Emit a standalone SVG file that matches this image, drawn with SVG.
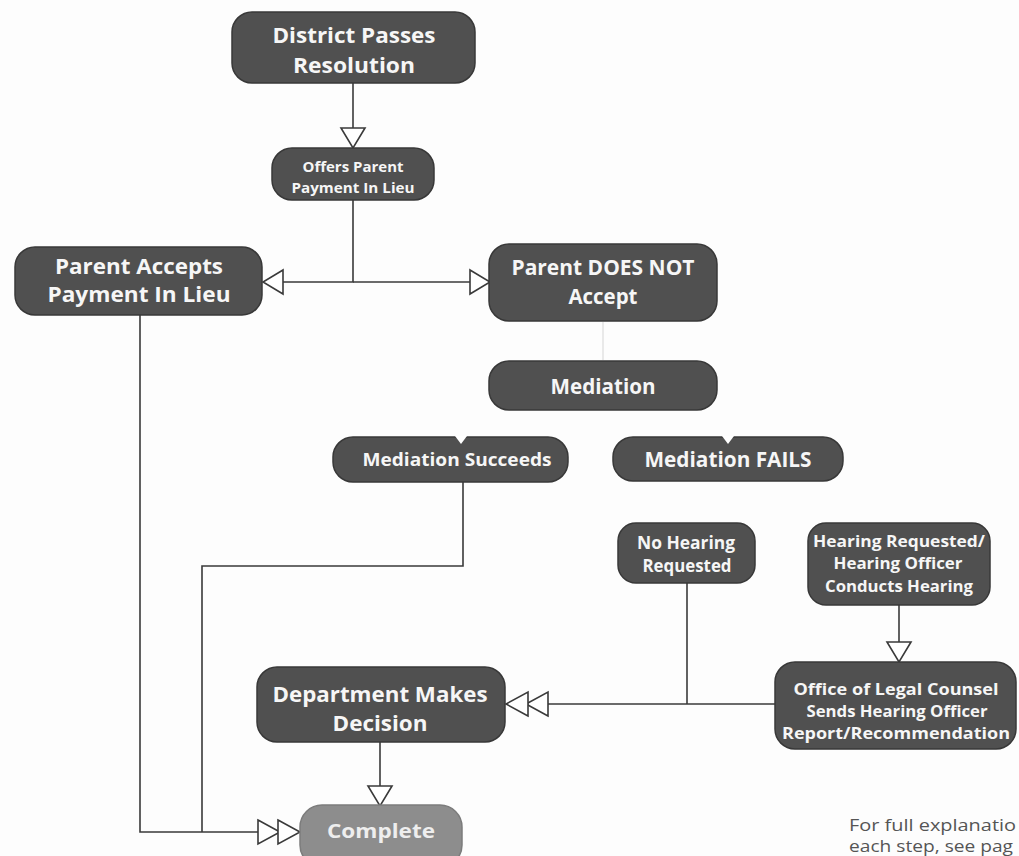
<svg xmlns="http://www.w3.org/2000/svg" width="1019" height="856" viewBox="0 0 1019 856">
<style>
.box{fill:#505050;stroke:#383838;stroke-width:1.5}
.light{fill:#8d8d8d;stroke:#7c7c7c;stroke-width:1.5}
.t{font-family:"Open Sans","Liberation Sans",sans-serif;font-weight:bold;fill:#f6f6f6;text-anchor:middle}
.big{font-size:22px}
.mid{font-size:18px}
.sm{font-size:16.5px}
.nh{font-size:17px}
.xs{font-size:15px}
.ct{fill:#eeeeee;font-size:20px}
.con{fill:none;stroke:#3a3a3a;stroke-width:1.6}
.faint{fill:none;stroke:#e2e2e2;stroke-width:1.5}
.note{font-family:"Open Sans","Liberation Sans",sans-serif;font-size:15.5px;fill:#555}
.notch{fill:#ffffff}
</style>
<defs>
<marker id="tri" markerUnits="userSpaceOnUse" markerWidth="24" markerHeight="28" refX="21" refY="13" orient="auto" overflow="visible">
<path d="M1,1 L21,13 L1,25 Z" fill="#ffffff" stroke="#3a3a3a" stroke-width="1.6"/>
</marker>
<marker id="dbl" markerUnits="userSpaceOnUse" markerWidth="46" markerHeight="28" refX="43" refY="13" orient="auto" overflow="visible">
<path d="M1,1 L23,13 L1,25 Z" fill="#ffffff" stroke="#3a3a3a" stroke-width="1.6"/>
<path d="M21,1 L43,13 L21,25 Z" fill="#ffffff" stroke="#3a3a3a" stroke-width="1.6"/>
</marker>
</defs>
<rect width="1019" height="856" fill="#fdfdfd"/>

<g id="connectors">
<path class="con" d="M353,83 V148" marker-end="url(#tri)"/>
<path class="con" d="M353,200 V282 H263" marker-end="url(#tri)"/>
<path class="con" d="M353,282 H490" marker-end="url(#tri)"/>
<path class="con" d="M140,315 V832 H300" marker-end="url(#dbl)"/>
<path class="con" d="M463,482 V566 H202 V832"/>
<path class="faint" d="M603,322 V360"/>
<path class="con" d="M775,704 H506" marker-end="url(#dbl)"/>
<path class="con" d="M687,583 V704"/>
<path class="con" d="M899,605 V662" marker-end="url(#tri)"/>
<path class="con" d="M380,742 V806" marker-end="url(#tri)"/>
</g>

<g id="district">
<rect class="box" x="232" y="12" width="243" height="71" rx="20"/>
<text class="t big" x="354" y="43" textLength="163" lengthAdjust="spacingAndGlyphs">District Passes</text>
<text class="t big" x="354" y="73" textLength="122" lengthAdjust="spacingAndGlyphs">Resolution</text>
</g>

<g id="offers">
<rect class="box" x="272" y="148" width="162" height="52" rx="20"/>
<text class="t xs" x="353" y="172" textLength="101" lengthAdjust="spacingAndGlyphs">Offers Parent</text>
<text class="t xs" x="353" y="193" textLength="123" lengthAdjust="spacingAndGlyphs">Payment In Lieu</text>
</g>

<g id="accepts">
<rect class="box" x="15" y="247" width="247" height="68" rx="20"/>
<text class="t big" x="139" y="274" textLength="168" lengthAdjust="spacingAndGlyphs">Parent Accepts</text>
<text class="t big" x="139" y="302" textLength="183" lengthAdjust="spacingAndGlyphs">Payment In Lieu</text>
</g>

<g id="notaccept">
<rect class="box" x="489" y="244" width="228" height="77" rx="20"/>
<text class="t big" x="603" y="275" textLength="183" lengthAdjust="spacingAndGlyphs">Parent DOES NOT</text>
<text class="t big" x="603" y="304" textLength="69" lengthAdjust="spacingAndGlyphs">Accept</text>
</g>

<g id="mediation">
<rect class="box" x="489" y="361" width="228" height="49" rx="20"/>
<text class="t big" x="603" y="394" textLength="105" lengthAdjust="spacingAndGlyphs">Mediation</text>
</g>

<g id="succeeds">
<rect class="box" x="333" y="437" width="235" height="45" rx="20"/>
<path class="notch" d="M455,436 L461,444 L467,436 Z"/>
<text class="t mid" x="457" y="466" textLength="189" lengthAdjust="spacingAndGlyphs">Mediation Succeeds</text>
</g>

<g id="fails">
<rect class="box" x="613" y="437" width="230" height="44" rx="20"/>
<path class="notch" d="M722,436 L728,444 L734,436 Z"/>
<text class="t big" x="728" y="467" textLength="167" lengthAdjust="spacingAndGlyphs">Mediation FAILS</text>
</g>

<g id="nohearing">
<rect class="box" x="618" y="523" width="137" height="60" rx="18"/>
<text class="t nh" x="686" y="549" textLength="98" lengthAdjust="spacingAndGlyphs">No Hearing</text>
<text class="t nh" x="687" y="572" textLength="89" lengthAdjust="spacingAndGlyphs">Requested</text>
</g>

<g id="hearing">
<rect class="box" x="808" y="523" width="182" height="82" rx="18"/>
<text class="t sm" x="899" y="547" textLength="172" lengthAdjust="spacingAndGlyphs">Hearing Requested/</text>
<text class="t sm" x="898" y="569" textLength="129" lengthAdjust="spacingAndGlyphs">Hearing Officer</text>
<text class="t sm" x="899" y="592" textLength="148" lengthAdjust="spacingAndGlyphs">Conducts Hearing</text>
</g>

<g id="office">
<rect class="box" x="775" y="662" width="241" height="87" rx="20"/>
<text class="t sm" x="896" y="695" textLength="205" lengthAdjust="spacingAndGlyphs">Office of Legal Counsel</text>
<text class="t sm" x="897" y="717" textLength="181" lengthAdjust="spacingAndGlyphs">Sends Hearing Officer</text>
<text class="t sm" x="896" y="739" textLength="228" lengthAdjust="spacingAndGlyphs">Report/Recommendation</text>
</g>

<g id="department">
<rect class="box" x="257" y="667" width="248" height="75" rx="20"/>
<text class="t big" x="380" y="702" textLength="215" lengthAdjust="spacingAndGlyphs">Department Makes</text>
<text class="t big" x="380" y="731" textLength="95" lengthAdjust="spacingAndGlyphs">Decision</text>
</g>

<g id="complete">
<rect class="light" x="300" y="805" width="162" height="62" rx="22"/>
<text class="t ct" x="381" y="838" textLength="108" lengthAdjust="spacingAndGlyphs">Complete</text>
</g>

<g id="note">
<text class="note" x="849" y="831" textLength="167" lengthAdjust="spacingAndGlyphs">For full explanatio</text>
<text class="note" x="849" y="852" textLength="164" lengthAdjust="spacingAndGlyphs">each step, see pag</text>
</g>
</svg>
